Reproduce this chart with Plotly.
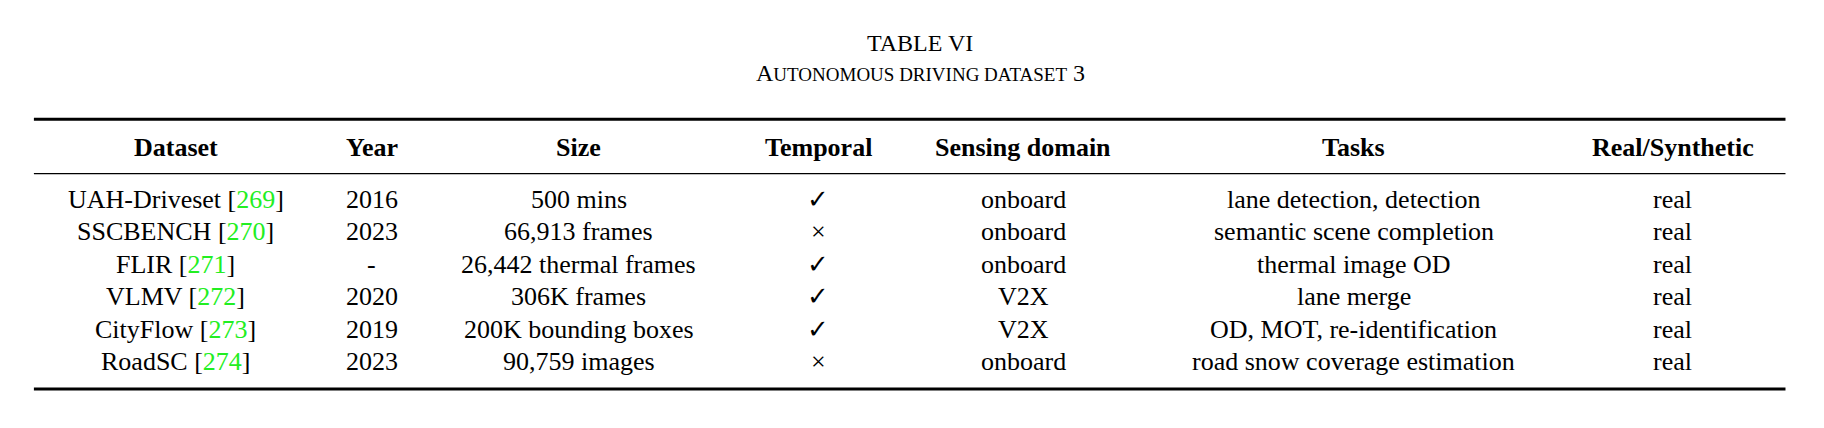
import plotly.graph_objects as go

# Table contents
datasets = ["UAH-Driveset", "SSCBENCH", "FLIR", "VLMV", "CityFlow", "RoadSC"]
refs = ["269", "270", "271", "272", "273", "274"]
years = ["2016", "2023", "-", "2020", "2019", "2023"]
sizes = ["500 mins", "66,913 frames", "26,442 thermal frames", "306K frames",
         "200K bounding boxes", "90,759 images"]
temporal = [True, False, True, True, True, False]
sensing = ["onboard", "onboard", "onboard", "V2X", "V2X", "onboard"]
tasks = ["lane detection, detection", "semantic scene completion", "thermal image OD",
         "lane merge", "OD, MOT, re-identification", "road snow coverage estimation"]
real_syn = ["real"] * 6
headers = ["Dataset", "Year", "Size", "Temporal", "Sensing domain", "Tasks", "Real/Synthetic"]

col_x = [0.0921, 0.1994, 0.3128, 0.4443, 0.5565, 0.7378, 0.9128]
row_y = [0.553, 0.477, 0.401, 0.326, 0.250, 0.174]
FONT = "Liberation Serif"
FS = 26
X0, X1 = 0.0142, 0.9745

fig = go.Figure()
ann = []

def add(x, y, text, size=FS):
    ann.append(dict(x=x, y=y, xref="paper", yref="paper", text=text, showarrow=False,
                    xanchor="center", yanchor="middle",
                    font=dict(family=FONT, size=size, color="black")))

add(0.5, 0.918, "TABLE VI", 24)
add(0.5, 0.848, "A<span style='font-size:19px'>UTONOMOUS DRIVING DATASET</span> 3", 24)

for x, h in zip(col_x, headers):
    add(x, 0.675, "<b>" + h + "</b>")

for i, y in enumerate(row_y):
    cells = [
        datasets[i] + " [<span style='color:#22ee22'>" + refs[i] + "</span>]",
        years[i], sizes[i], "✓" if temporal[i] else "×",
        sensing[i], tasks[i], real_syn[i],
    ]
    for x, c in zip(col_x, cells):
        add(x, y, c)

shapes = [
    dict(type="line", xref="paper", yref="paper", x0=X0, x1=X1, y0=0.740, y1=0.740,
         line=dict(color="black", width=3)),
    dict(type="line", xref="paper", yref="paper", x0=X0, x1=X1, y0=0.613, y1=0.613,
         line=dict(color="black", width=1.3)),
    dict(type="line", xref="paper", yref="paper", x0=X0, x1=X1, y0=0.110, y1=0.110,
         line=dict(color="black", width=3)),
]

fig.update_layout(width=1824, height=428, margin=dict(l=0, r=0, t=0, b=0),
                  paper_bgcolor="white", plot_bgcolor="white",
                  xaxis=dict(visible=False), yaxis=dict(visible=False),
                  annotations=ann, shapes=shapes)
fig.write_html("out.html")
